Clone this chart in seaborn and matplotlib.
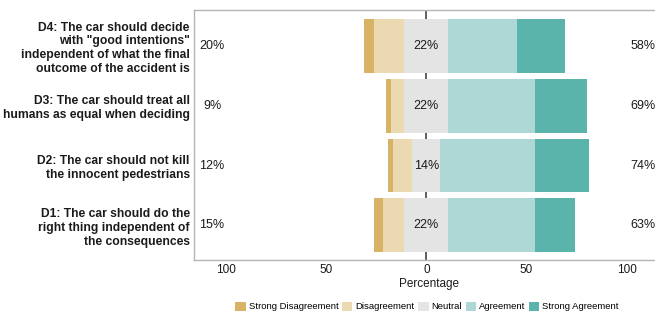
import numpy as np
import pandas as pd
import matplotlib
matplotlib.use('Agg')
import matplotlib.pyplot as plt
import seaborn as sns
from matplotlib.patches import Patch

# Survey statements (top to bottom) and response shares in %
questions = ['D4: The car should decide\nwith "good intentions"\nindependent of what the final\noutcome of the accident is',
             'D3: The car should treat all\nhumans as equal when deciding',
             'D2: The car should not kill\nthe innocent pedestrians',
             'D1: The car should do the\nright thing independent of\nthe consequences']
strong_disagree = [5, 2.5, 2.5, 4.5]
disagree = [15, 6.5, 9.5, 10.5]
neutral = [22, 22, 14, 22]
agree = [34, 43, 47, 43]
strong_agree = [24, 26, 27, 20]
low_labels = ['20%', '9%', '12%', '15%']
mid_labels = ['22%', '22%', '14%', '22%']
high_labels = ['58%', '69%', '74%', '63%']

levels = ['Strong Disagreement', 'Disagreement', 'Neutral', 'Agreement', 'Strong Agreement']
colors = ['#D8B365', '#EAD9B1', '#E4E4E4', '#ADD8D5', '#5BB4AC']

df = pd.DataFrame({'q': questions, 'sd': strong_disagree, 'd': disagree, 'n': neutral,
                   'a': agree, 'sa': strong_agree})
half = df['n'] / 2
# cumulative extents, drawn largest first so smaller ones sit on top
layers = [
    (half + df['a'] + df['sa'], colors[4]),
    (half + df['a'], colors[3]),
    (half, colors[2]),
    (-(half + df['d'] + df['sd']), colors[0]),
    (-(half + df['d']), colors[1]),
    (-half, colors[2]),
]

plt.rcParams['font.family'] = ['Liberation Sans', 'DejaVu Sans']
fig = plt.figure(figsize=(6.55, 3.12), dpi=100)
ax = fig.add_axes([194 / 655, 1 - 260 / 312, 470 / 655, 250 / 312])

ax.axvline(0, color='#444444', lw=1.2, zorder=0)
for vals, col in layers:
    sns.barplot(x=vals, y=df['q'], orient='h', color=col, width=0.9,
                saturation=1, ax=ax, zorder=2, linewidth=0)

for i in range(len(questions)):
    ax.text(-107, i, low_labels[i], ha='center', va='center', fontsize=9, color='#1a1a1a')
    ax.text(0, i, mid_labels[i], ha='center', va='center', fontsize=9, color='#1a1a1a', zorder=5)
    ax.text(108, i, high_labels[i], ha='center', va='center', fontsize=9, color='#1a1a1a')

ax.set_xlim(-116, 118.6)
ax.set_ylim(3.58, -0.6)
ax.set_xticks([-100, -50, 0, 50, 100])
ax.set_xticklabels(['100', '50', '0', '50', '100'], fontsize=8.5, color='#1a1a1a')
ax.set_xlabel('Percentage', fontsize=8.5, color='#1a1a1a', labelpad=1)
ax.set_ylabel('')
ax.tick_params(axis='x', length=0, pad=3)
ax.tick_params(axis='y', length=0, pad=3)
for lab in ax.get_yticklabels():
    lab.set_fontweight('bold')
    lab.set_fontsize(8.7)
    lab.set_color('#1a1a1a')
    lab.set_linespacing(1.2)
for s in ax.spines.values():
    s.set_color('#B5B5B5')
    s.set_linewidth(1)

handles = [Patch(facecolor=c, edgecolor='none', label=l) for l, c in zip(levels, colors)]
fig.legend(handles=handles, loc='lower center', bbox_to_anchor=(0.652, -0.025), ncol=5,
           frameon=False, fontsize=6.8, handlelength=1.1, handleheight=1.1,
           handletextpad=0.3, columnspacing=0.4)

fig.savefig('out.png', dpi=100)
